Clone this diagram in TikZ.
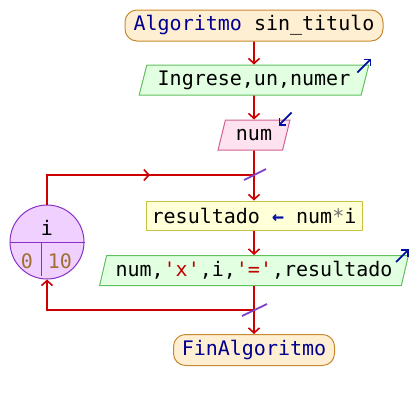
\documentclass[tikz,border=0pt]{standalone}
\usepackage{fontspec}
\setmainfont{DejaVu Sans Mono}
\setmonofont{DejaVu Sans Mono}
\usetikzlibrary{arrows.meta,shapes.geometric,decorations.markings,calc}
\definecolor{flowred}{HTML}{CC0000}
\definecolor{kwblue}{HTML}{000090}
\definecolor{ioblue}{HTML}{0010A0}
\definecolor{strred}{HTML}{C00000}
\definecolor{numbrown}{HTML}{A07030}
\definecolor{opgray}{HTML}{707070}
\definecolor{termfill}{HTML}{FFEFD2}
\definecolor{termdraw}{HTML}{C88A30}
\definecolor{outfill}{HTML}{E2FFE2}
\definecolor{outdraw}{HTML}{60C060}
\definecolor{infill}{HTML}{FFE2F0}
\definecolor{indraw}{HTML}{D06090}
\definecolor{asgfill}{HTML}{FFFFD8}
\definecolor{asgdraw}{HTML}{C8C040}
\definecolor{loopfill}{HTML}{F0D0FF}
\definecolor{loopdraw}{HTML}{8830C8}
\definecolor{slashcol}{HTML}{8040C8}
\newcommand{\kwd}[1]{\textcolor{kwblue}{#1}}
\begin{document}
\begin{tikzpicture}[x=1pt,y=-1pt,
  every node/.style={font=\ttfamily\fontsize{20}{23}\selectfont, inner sep=0pt},
  term/.style={draw=termdraw, fill=termfill, line width=1pt, rounded corners=12pt, minimum height=31pt},
  outbox/.style={draw=outdraw, fill=outfill, line width=1pt, trapezium, trapezium left angle=70, trapezium right angle=110, trapezium stretches=true, minimum height=30pt},
  inbox/.style={draw=indraw, fill=infill, line width=1pt, trapezium, trapezium left angle=68, trapezium right angle=112, trapezium stretches=true, minimum height=30pt},
  asgbox/.style={draw=asgdraw, fill=asgfill, line width=1pt, minimum height=29pt},
  flowline/.style={draw=flowred, line width=1.8pt},
  tip/.style={-{Straight Barb[length=5pt,width=11pt,line width=1.6pt]}},
  iotip/.style={draw=ioblue, line width=1.8pt, -{Straight Barb[length=5pt,width=10pt,line width=1.6pt]}},
  slash/.style={draw=slashcol, line width=1.8pt},
  midtip/.style={postaction={decorate}, decoration={markings, mark=at position #1 with {\arrow{Straight Barb[length=5pt,width=11pt,line width=1.6pt]}}}}
]
\useasboundingbox (0,0) rectangle (414,400);

\node[term, minimum width=258pt] (start) at (254,25.5) {\kwd{Algoritmo} sin\_titulo};
\node[outbox, minimum width=230pt] (in1) at (254,80) {Ingrese,un,numer};
\node[inbox, minimum width=72pt] (read) at (254,135) {num};
\node[asgbox, minimum width=216pt] (calc) at (254,215.5) {resultado \textcolor{ioblue}{\textbf{←}} num\textcolor{opgray}{*}i};
\node[outbox, minimum width=310pt] (out) at (254,270.5) {num,\textcolor{strred}{'x'},i,\textcolor{strred}{'='},resultado};
\node[term, minimum width=161pt] (end) at (254,350) {\kwd{FinAlgoritmo}};

\node[circle, draw=loopdraw, fill=loopfill, line width=1pt, minimum size=74pt] (loop) at (47,242) {};
\draw[loopdraw, line width=1pt] (loop.west) -- (loop.east);
\draw[loopdraw, line width=1pt] (41,242) -- (41,276);
\node (var) at (47,228) {i};
\node[text=numbrown] (from) at (27,261) {0};
\node[text=numbrown] (to) at (60,261) {10};

\coordinate (j1) at (254,175);
\coordinate (j2) at (254,310);

\draw[flowline, tip] (start) -- (in1);
\draw[flowline, tip] (in1) -- (read);
\draw[flowline, tip] (read) -- (calc);
\draw[flowline, tip] (calc) -- (out);
\draw[flowline, tip] (out) -- (end);
\draw[flowline, midtip=0.56] (loop.north) |- (j1);
\draw[flowline, tip] (j2) -| (loop.south);

\draw[slash] ($(j1)+(-10,5)$) -- ($(j1)+(12,-6)$);
\draw[slash] ($(j2)+(-12,6)$) -- ($(j2)+(13,-6)$);

\draw[iotip] ($(in1.top right corner)+(-12,8)$) -- ($(in1.top right corner)+(2,-6)$);
\draw[iotip] ($(read.top right corner)+(1,-7)$) -- ($(read.top right corner)+(-12,6)$);
\draw[iotip] ($(out.top right corner)+(-13,7)$) -- ($(out.top right corner)+(0,-6)$);
\end{tikzpicture}
\end{document}
